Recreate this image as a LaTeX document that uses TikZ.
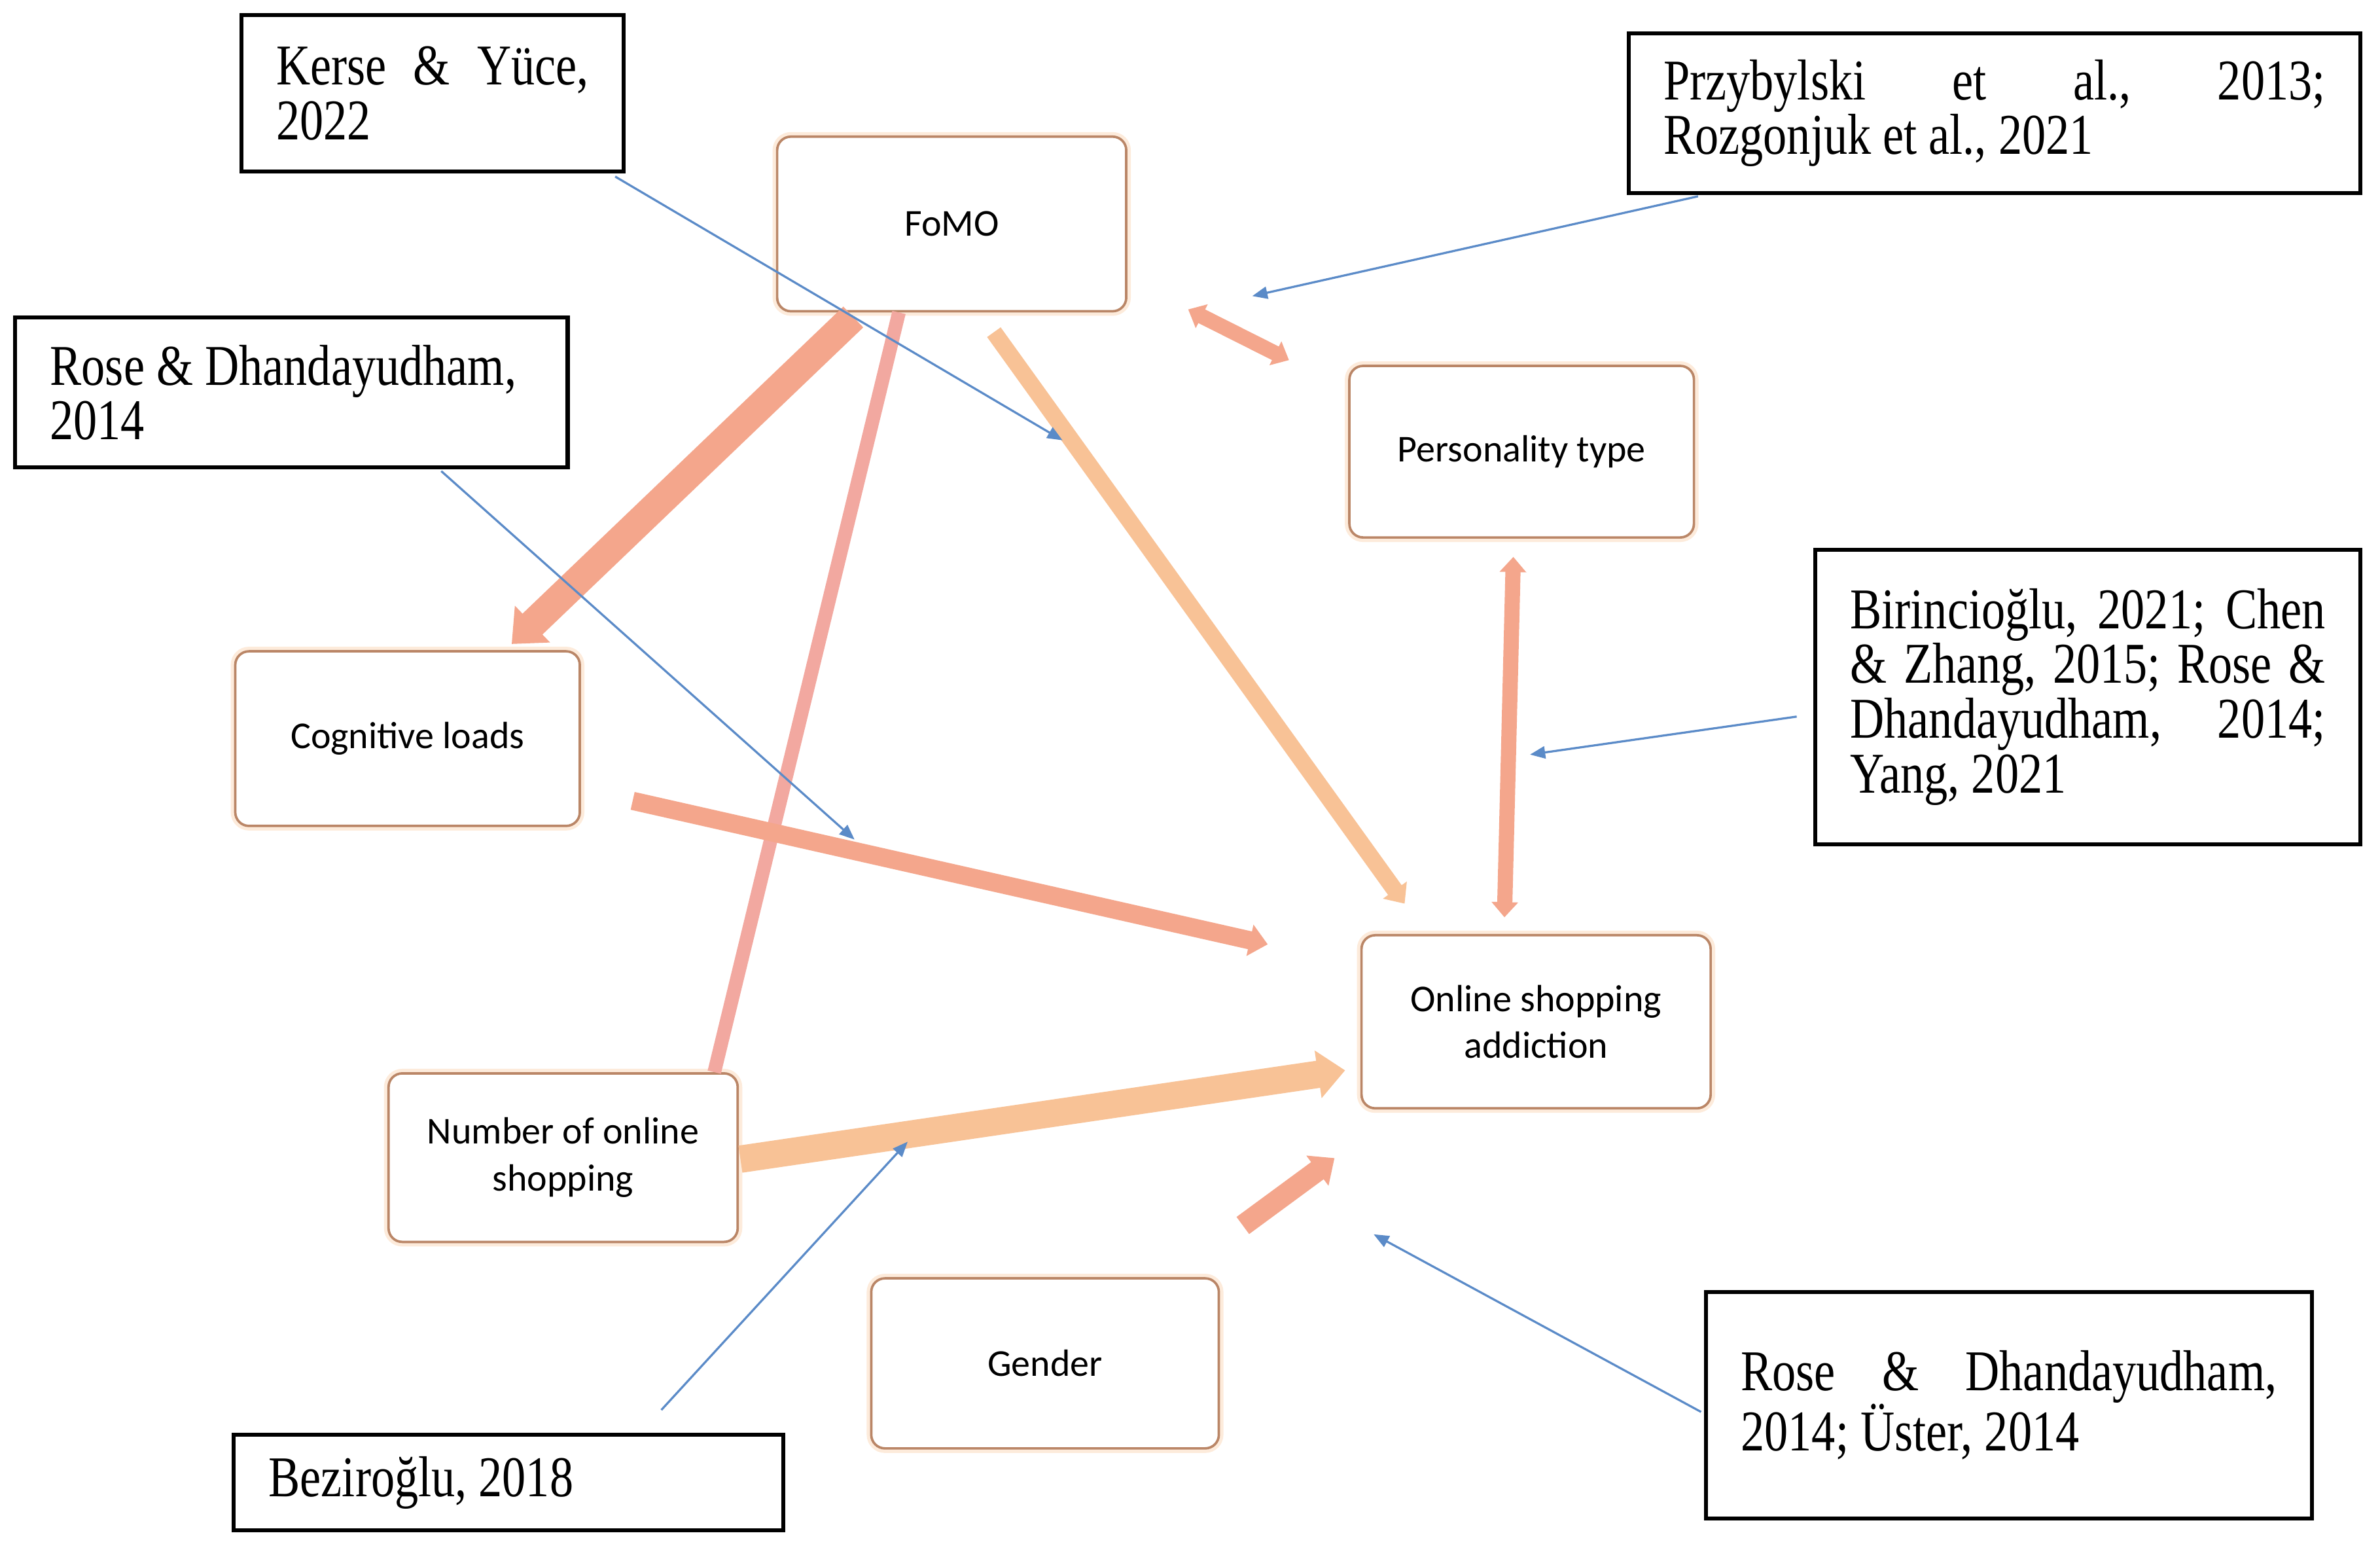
\documentclass[tikz,border=0pt]{standalone}
\usepackage{fontspec}
\setmainfont{Liberation Serif}
\newfontfamily\reffont{Liberation Serif}[FakeStretch=0.82]
\newfontfamily\boxfont{Carlito}
\usetikzlibrary{arrows.meta,calc}
\definecolor{salmon}{HTML}{F4A68C}
\definecolor{lightor}{HTML}{F8C296}
\definecolor{pinkline}{HTML}{F2A8A0}
\definecolor{bluearr}{HTML}{5B8BC8}
\definecolor{boxedge}{HTML}{BA8667}
\definecolor{halo}{HTML}{FDEBDB}
\newcommand{\natsp}{\spaceskip=0pt\xspaceskip=0pt\relax}
\begin{document}
\begin{tikzpicture}[x=1pt,y=-1pt,
  varbox/.style={draw=boxedge, line width=1.6pt, rounded corners=9pt, fill=white,
    preaction={draw=halo, line width=6pt}, font=\boxfont\fontsize{25}{31}\selectfont,
    align=center, inner sep=0pt},
  refbox/.style={draw=black, line width=2.6pt, fill=white,
    font=\reffont\fontsize{38}{36}\selectfont, align=left, inner sep=0pt},
  oarr/.style={line width=#1, -{Triangle[length=0pt 1.0, width=0pt 1.7]}},
  darr/.style={line width=#1, {Triangle[length=0pt 1.0, width=0pt 1.7]}-{Triangle[length=0pt 1.0, width=0pt 1.7]}},
  barr/.style={draw=bluearr, line width=1.4pt, -{Triangle[length=10pt, width=8pt]}}
]
\fill[white] (0,0) rectangle (1568,1018);
\useasboundingbox (0,0) rectangle (1568,1018);

% variable boxes
\node[varbox, minimum width=230pt, minimum height=115pt] (fomo) at (627,147.5) {FoMO};
\node[varbox, minimum width=227pt, minimum height=113pt] (pers) at (1002.5,297.5) {\natsp Personality type};
\node[varbox, minimum width=227pt, minimum height=115pt] (cog) at (268.5,486.5) {\natsp Cognitive loads};
\node[varbox, minimum width=230pt, minimum height=114pt] (osa) at (1012,673) {\natsp Online shopping\\addiction};
\node[varbox, minimum width=230pt, minimum height=111pt] (num) at (371,762.5) {\natsp Number of online\\shopping};
\node[varbox, minimum width=229pt, minimum height=112pt] (gender) at (688.5,898) {Gender};

% reference boxes
\node[refbox, minimum width=252pt, minimum height=103pt, text width=206pt] (kerse) at (285,61.5)
  {\natsp\makebox[206pt]{Kerse\hfill\&\hfill Yüce,}\\2022};
\node[refbox, minimum width=482pt, minimum height=105pt, text width=436pt] (przy) at (1314,74.5)
  {\natsp\makebox[436pt]{Przybylski\hfill et\hfill al.,\hfill 2013;}\\Rozgonjuk et al., 2021};
\node[refbox, minimum width=364pt, minimum height=99pt, text width=318pt] (rose1) at (192,258.5)
  {\natsp Rose \& Dhandayudham,\\2014};
\node[refbox, minimum width=359pt, minimum height=194pt, text width=313pt] (biri) at (1375.5,459)
  {\natsp\makebox[313pt]{Birincioğlu,\hfill 2021;\hfill Chen}\\\makebox[313pt]{\&\hfill Zhang,\hfill 2015;\hfill Rose\hfill \&}\\\makebox[313pt]{Dhandayudham,\hfill 2014;}\\Yang, 2021};
\node[refbox, minimum width=362pt, minimum height=63pt, text width=316pt] (bezi) at (335,976.5)
  {\natsp Beziroğlu, 2018};
\node[refbox, minimum width=399pt, minimum height=149pt, text width=353pt] (uster) at (1323.5,925.5)
  {\natsp\makebox[353pt]{Rose\hfill\&\hfill Dhandayudham,}\\2014; Üster, 2014};

% orange connectors
\draw[oarr=19pt, salmon] ($(fomo.south west)!0.22!(fomo.south east)+(0,3)$) -- ($(cog.north west)!0.8!(cog.north east)+(0,-4)$);
\draw[line width=9pt, pinkline] ($(num.north west)!0.93!(num.north east)$) -- ($(fomo.south west)!0.35!(fomo.south east)$);
\draw[oarr=11pt, lightor] ($(fomo.south west)!0.62!(fomo.south east)+(0,13)$) -- ($(osa.north west)!0.126!(osa.north east)+(0,-20)$);
\draw[darr=10pt, salmon] ($(fomo.south east)+(40,-2)$) -- ($(pers.north west)+(-39,-3)$);
\draw[darr=10pt, salmon] ($(pers.south west)!0.476!(pers.south east)+(0,12)$) -- ($(osa.north west)!0.41!(osa.north east)+(0,-11)$);
\draw[oarr=12pt, salmon] ($(cog.east)+(34,41)$) -- ($(osa.west)+(-61,-51)$);
\draw[oarr=18pt, lightor] ($(num.east)+(1,1)$) -- ($(osa.west)+(-10,32)$);
\draw[oarr=14pt, salmon] ($(gender.north east)+(15,-34)$) -- ($(osa.south west)+(-17,32)$);

% targets of citation arrows
\coordinate (t1) at (700,290);
\coordinate (t2) at (825,195);
\coordinate (t3) at (563,553);
\coordinate (t4) at (1008,497);
\coordinate (t5) at (598,752);
\coordinate (t6) at (905,813);

% blue citation arrows
\draw[barr] ($(kerse.south east)+(-7,2)$) -- (t1);
\draw[barr] ($(przy.south west)+(47,1)$) -- (t2);
\draw[barr] ($(rose1.south west)+(282,1)$) -- (t3);
\draw[barr] ($(biri.west)+(-11,13)$) -- (t4);
\draw[barr] ($(bezi.north west)+(283,-15)$) -- (t5);
\draw[barr] ($(uster.west)+(-2,4.5)$) -- (t6);
\end{tikzpicture}
\end{document}
